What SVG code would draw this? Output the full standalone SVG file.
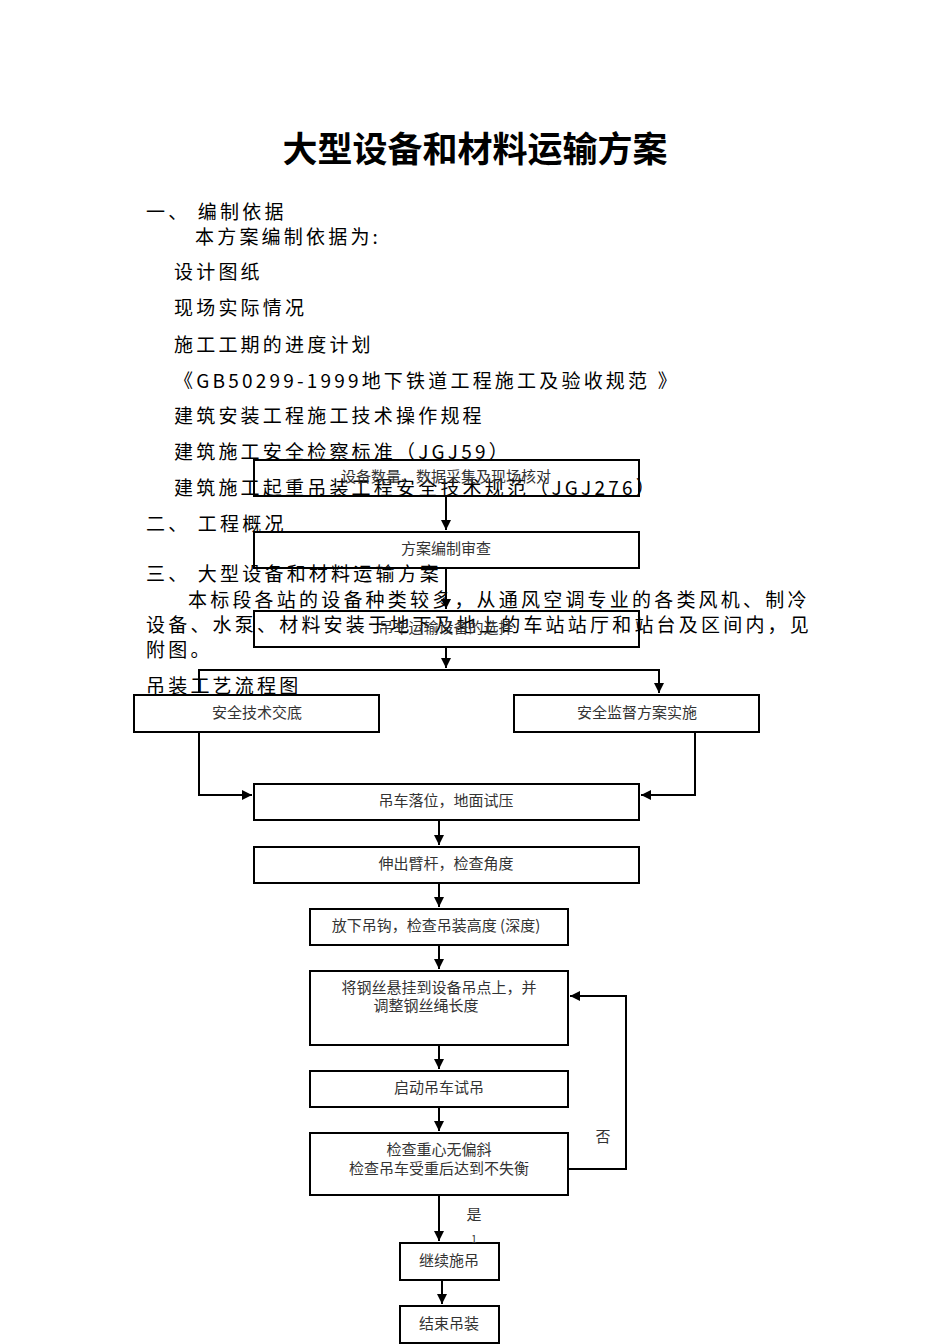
<svg xmlns="http://www.w3.org/2000/svg" width="950" height="1344" viewBox="0 0 950 1344">
<style>
.b{font-family:"Noto Sans CJK SC","Liberation Serif",serif;font-size:19px;letter-spacing:3.2px;fill:#000}
.n rect{fill:none;stroke:#000;stroke-width:2}
.n text{font-family:"Noto Sans CJK SC","Liberation Sans",sans-serif;font-size:15px;fill:#333;text-anchor:middle}
.c path{fill:none;stroke:#000;stroke-width:2;marker-end:url(#a)}
</style>
<defs><marker id="a" viewBox="0 0 10 10" refX="10" refY="5" markerWidth="5" markerHeight="5" orient="auto"><path d="M0,0L10,5L0,10z" fill="#000"/></marker></defs>
<rect width="950" height="1344" fill="#fff"/>
<text x="475" y="162" text-anchor="middle" style="font-family:'Noto Sans CJK SC',sans-serif;font-size:35px;font-weight:bold">大型设备和材料运输方案</text>
<g class="b">
<text x="146" y="219">一、  编制依据</text>
<text x="195" y="244">本方案编制依据为:</text>
<text x="174" y="279">设计图纸</text>
<text x="174" y="315">现场实际情况</text>
<text x="174" y="352">施工工期的进度计划</text>
<text x="174" y="388">《GB50299-1999地下铁道工程施工及验收规范 》</text>
<text x="174" y="423">建筑安装工程施工技术操作规程</text>
<text x="174" y="459">建筑施工安全检察标准（JGJ59）</text>
<text x="174" y="495">建筑施工起重吊装工程安全技术规范（JGJ276）</text>
<text x="146" y="531">二、  工程概况</text>
<text x="146" y="581">三、  大型设备和材料运输方案</text>
<text x="188" y="607">本标段各站的设备种类较多，从通风空调专业的各类风机、制冷</text>
<text x="146" y="632">设备、水泵、材料安装于地下及地上的车站站厅和站台及区间内，见</text>
<text x="146" y="657">附图。</text>
<text x="146" y="693">吊装工艺流程图</text>
</g>
<g class="c">
<path d="M446,496V530"/>
<path d="M446,568V609"/>
<path d="M446,647V668"/>
<path d="M199,693V670H659V693"/>
<path d="M199,732V795H252"/>
<path d="M695,732V795H641"/>
<path d="M439,820V845"/>
<path d="M439,883V907"/>
<path d="M439,945V969"/>
<path d="M439,1045V1069"/>
<path d="M439,1107V1131"/>
<path d="M568,1169H626V996H570"/>
<path d="M439,1195V1241"/>
<path d="M442,1280V1304"/>
</g>
<g class="n">
<g id="n1"><rect x="254" y="460" width="385" height="36"/><text x="446" y="482">设备数量、数据采集及现场核对</text></g>
<g id="n2"><rect x="254" y="532" width="385" height="36"/><text x="446" y="554">方案编制审查</text></g>
<g id="n3"><rect x="254" y="611" width="385" height="36"/><text x="446" y="633">吊车运输设备的选择</text></g>
<g id="n4"><rect x="134" y="695" width="245" height="37"/><text x="257" y="718">安全技术交底</text></g>
<g id="n5"><rect x="514" y="695" width="245" height="37"/><text x="637" y="718">安全监督方案实施</text></g>
<g id="n6"><rect x="254" y="784" width="385" height="36"/><text x="446" y="806">吊车落位，地面试压</text></g>
<g id="n7"><rect x="254" y="847" width="385" height="36"/><text x="446" y="869">伸出臂杆，检查角度</text></g>
<g id="n8"><rect x="310" y="909" width="258" height="36"/><text x="436" y="931">放下吊钩，检查吊装高度 (深度)</text></g>
<g id="n9"><rect x="310" y="971" width="258" height="74"/><text x="439" y="993">将钢丝悬挂到设备吊点上，并</text><text x="426" y="1011">调整钢丝绳长度</text></g>
<g id="n10"><rect x="310" y="1071" width="258" height="36"/><text x="439" y="1093">启动吊车试吊</text></g>
<g id="n11"><rect x="310" y="1133" width="258" height="62"/><text x="439" y="1155">检查重心无偏斜</text><text x="439" y="1174">检查吊车受重后达到不失衡</text></g>
<g id="n12"><rect x="400" y="1243" width="99" height="37"/><text x="449" y="1266">继续施吊</text></g>
<g id="n13"><rect x="400" y="1306" width="99" height="37"/><text x="449" y="1329">结束吊装</text></g>
</g>
<g class="n"><text x="603" y="1142">否</text><text x="474" y="1220">是</text><text x="474" y="1243" style="font-size:10px">1</text></g>
</svg>
